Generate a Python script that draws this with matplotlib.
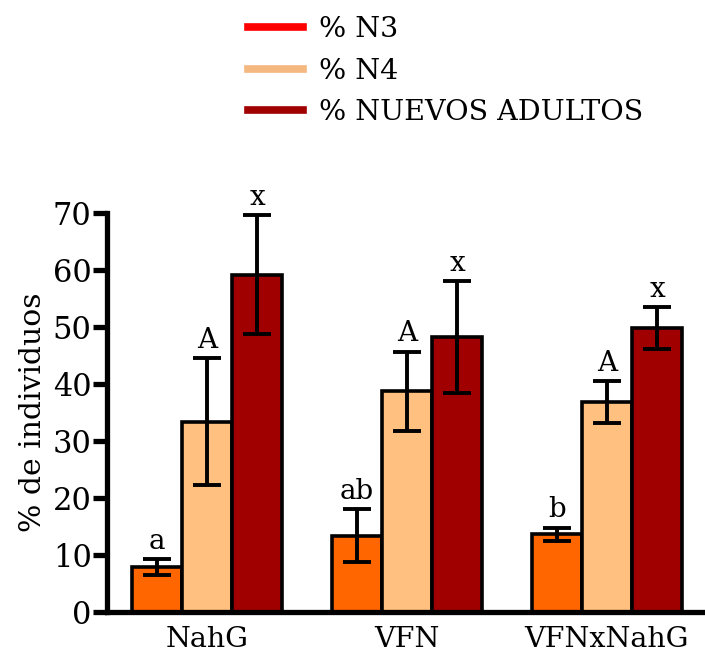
import matplotlib.pyplot as plt
import numpy as np
from matplotlib.lines import Line2D

plt.rcParams['font.family'] = ['DejaVu Serif']

grupos = ["NahG", "VFN", "VFNxNahG"]
series = ["% N3", "% N4", "% NUEVOS ADULTOS"]

n3 = [7.9, 13.4, 13.6]
n3_err = [1.4, 4.7, 1.2]
n4 = [33.4, 38.7, 36.8]
n4_err = [11.1, 7.0, 3.7]
adultos = [59.2, 48.2, 49.8]
adultos_err = [10.4, 9.8, 3.7]

letras_n3 = ["a", "ab", "b"]
letras_n4 = ["A", "A", "A"]
letras_adultos = ["x", "x", "x"]

colores_barra = ["#FF6600", "#FFC080", "#A00000"]
colores_leyenda = ["#FF0000", "#F4B880", "#A00000"]

fig = plt.figure(figsize=(7.05, 6.57), dpi=100)
ax = fig.add_axes([107 / 705, 45 / 657, 598 / 705, 399 / 657])

x = np.arange(len(grupos))
ancho = 0.25
datos = [(n3, n3_err, letras_n3), (n4, n4_err, letras_n4), (adultos, adultos_err, letras_adultos)]
for i, (vals, errs, letras) in enumerate(datos):
    pos = x + (i - 1) * ancho
    ax.bar(pos, vals, ancho, color=colores_barra[i], edgecolor="black", linewidth=2.6, zorder=2)
    ax.errorbar(pos, vals, yerr=errs, fmt="none", ecolor="black", elinewidth=2.8,
                capsize=10, capthick=2.8, zorder=3)
    for p, v, e, t in zip(pos, vals, errs, letras):
        ax.annotate(t, (p, v + e), xytext=(0, 3), textcoords="offset points",
                    ha="center", va="bottom", fontsize=20)

ax.set_xlim(-0.5, 2.49)
ax.set_ylim(0, 70)
ax.set_yticks(np.arange(0, 71, 10))
ax.set_xticks(x)
ax.set_xticklabels(grupos, fontsize=20.5)
ax.tick_params(axis="y", labelsize=22, length=10, width=3.8, pad=1)
ax.tick_params(axis="x", length=0, pad=10)
ax.set_ylabel("% de individuos", fontsize=21.5, labelpad=4)

for s in ["top", "right"]:
    ax.spines[s].set_visible(False)
for s in ["left", "bottom"]:
    ax.spines[s].set_linewidth(3.8)
ax.spines["bottom"].set_zorder(4)

handles = [Line2D([0], [0], color=c, lw=5.5) for c in colores_leyenda]
fig.legend(handles, series, loc="upper left", bbox_to_anchor=(237 / 705, 1 - 5 / 657),
           borderaxespad=0, frameon=False, fontsize=20.5, handlelength=1.93,
           handletextpad=0.56, labelspacing=0.5)

fig.savefig("out.png", dpi=100)
